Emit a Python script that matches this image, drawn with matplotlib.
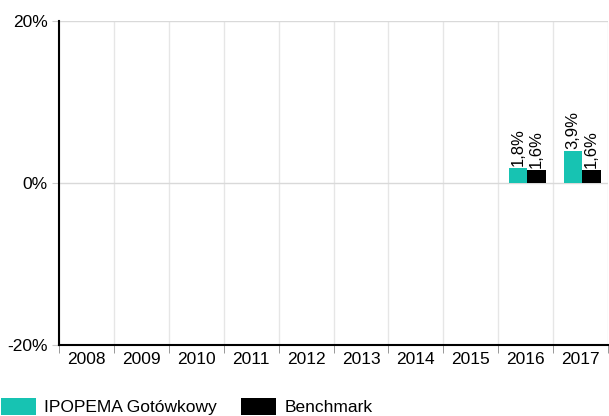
import numpy as np
import matplotlib.pyplot as plt

plt.rcParams['font.family'] = ['Liberation Sans', 'DejaVu Sans']

# data
years = ['2008', '2009', '2010', '2011', '2012', '2013', '2014', '2015', '2016', '2017']
fund = [np.nan] * 8 + [1.8, 3.9]
bench = [np.nan] * 8 + [1.6, 1.6]
fund_lbl = ['', '', '', '', '', '', '', '', '1,8%', '3,9%']
bench_lbl = ['', '', '', '', '', '', '', '', '1,6%', '1,6%']

teal = '#17c3b2'
fig = plt.figure(figsize=(6.09, 4.16), dpi=100)
ax = fig.add_axes([59/609, 1 - 345/416, 549/609, 324/416])

x = np.arange(len(years))
w = 0.34
b1 = ax.bar(x - w/2 + 0.03, fund, w, color=teal, label='IPOPEMA Gotówkowy', zorder=3)
b2 = ax.bar(x + w/2 + 0.03, bench, w, color='black', label='Benchmark', zorder=3)

for i in range(len(years)):
    if fund_lbl[i]:
        ax.text(x[i] - w/2 + 0.03, fund[i] + 0.3, fund_lbl[i], rotation=90,
                ha='center', va='bottom', fontsize=12)
    if bench_lbl[i]:
        ax.text(x[i] + w/2 + 0.03, bench[i] + 0.3, bench_lbl[i], rotation=90,
                ha='center', va='bottom', fontsize=12)

ax.set_xlim(-0.5, 9.5)
ax.set_ylim(-20, 20)
ax.set_yticks([-20, 0, 20])
ax.set_yticklabels(['-20%', '0%', '20%'], fontsize=12.5)
ax.set_xticks(x)
ax.set_xticklabels(years, fontsize=12.5)
ax.tick_params(axis='x', length=0, pad=5)
ax.tick_params(axis='y', length=5, color='#cccccc', pad=3)

# category boundary ticks and grid
ax.set_xticks(np.arange(-0.5, 10, 1), minor=True)
ax.tick_params(axis='x', which='minor', length=6, color='#888888')
ax.grid(axis='x', which='minor', color='#e6e6e6', lw=1, zorder=0)
ax.grid(axis='y', which='major', color='#d9d9d9', lw=1, zorder=0)

for s in ['top', 'right']:
    ax.spines[s].set_visible(False)
ax.spines['left'].set_linewidth(1.5)
ax.spines['bottom'].set_linewidth(1.5)

fig.legend(handles=[b1, b2], loc='lower left', bbox_to_anchor=(0, 0.0), ncol=2,
           frameon=False, fontsize=12.5, handlelength=2.0, handleheight=1.1,
           handletextpad=0.5, columnspacing=1.4, borderaxespad=0, borderpad=0.05)

fig.savefig('out.png', dpi=100)
